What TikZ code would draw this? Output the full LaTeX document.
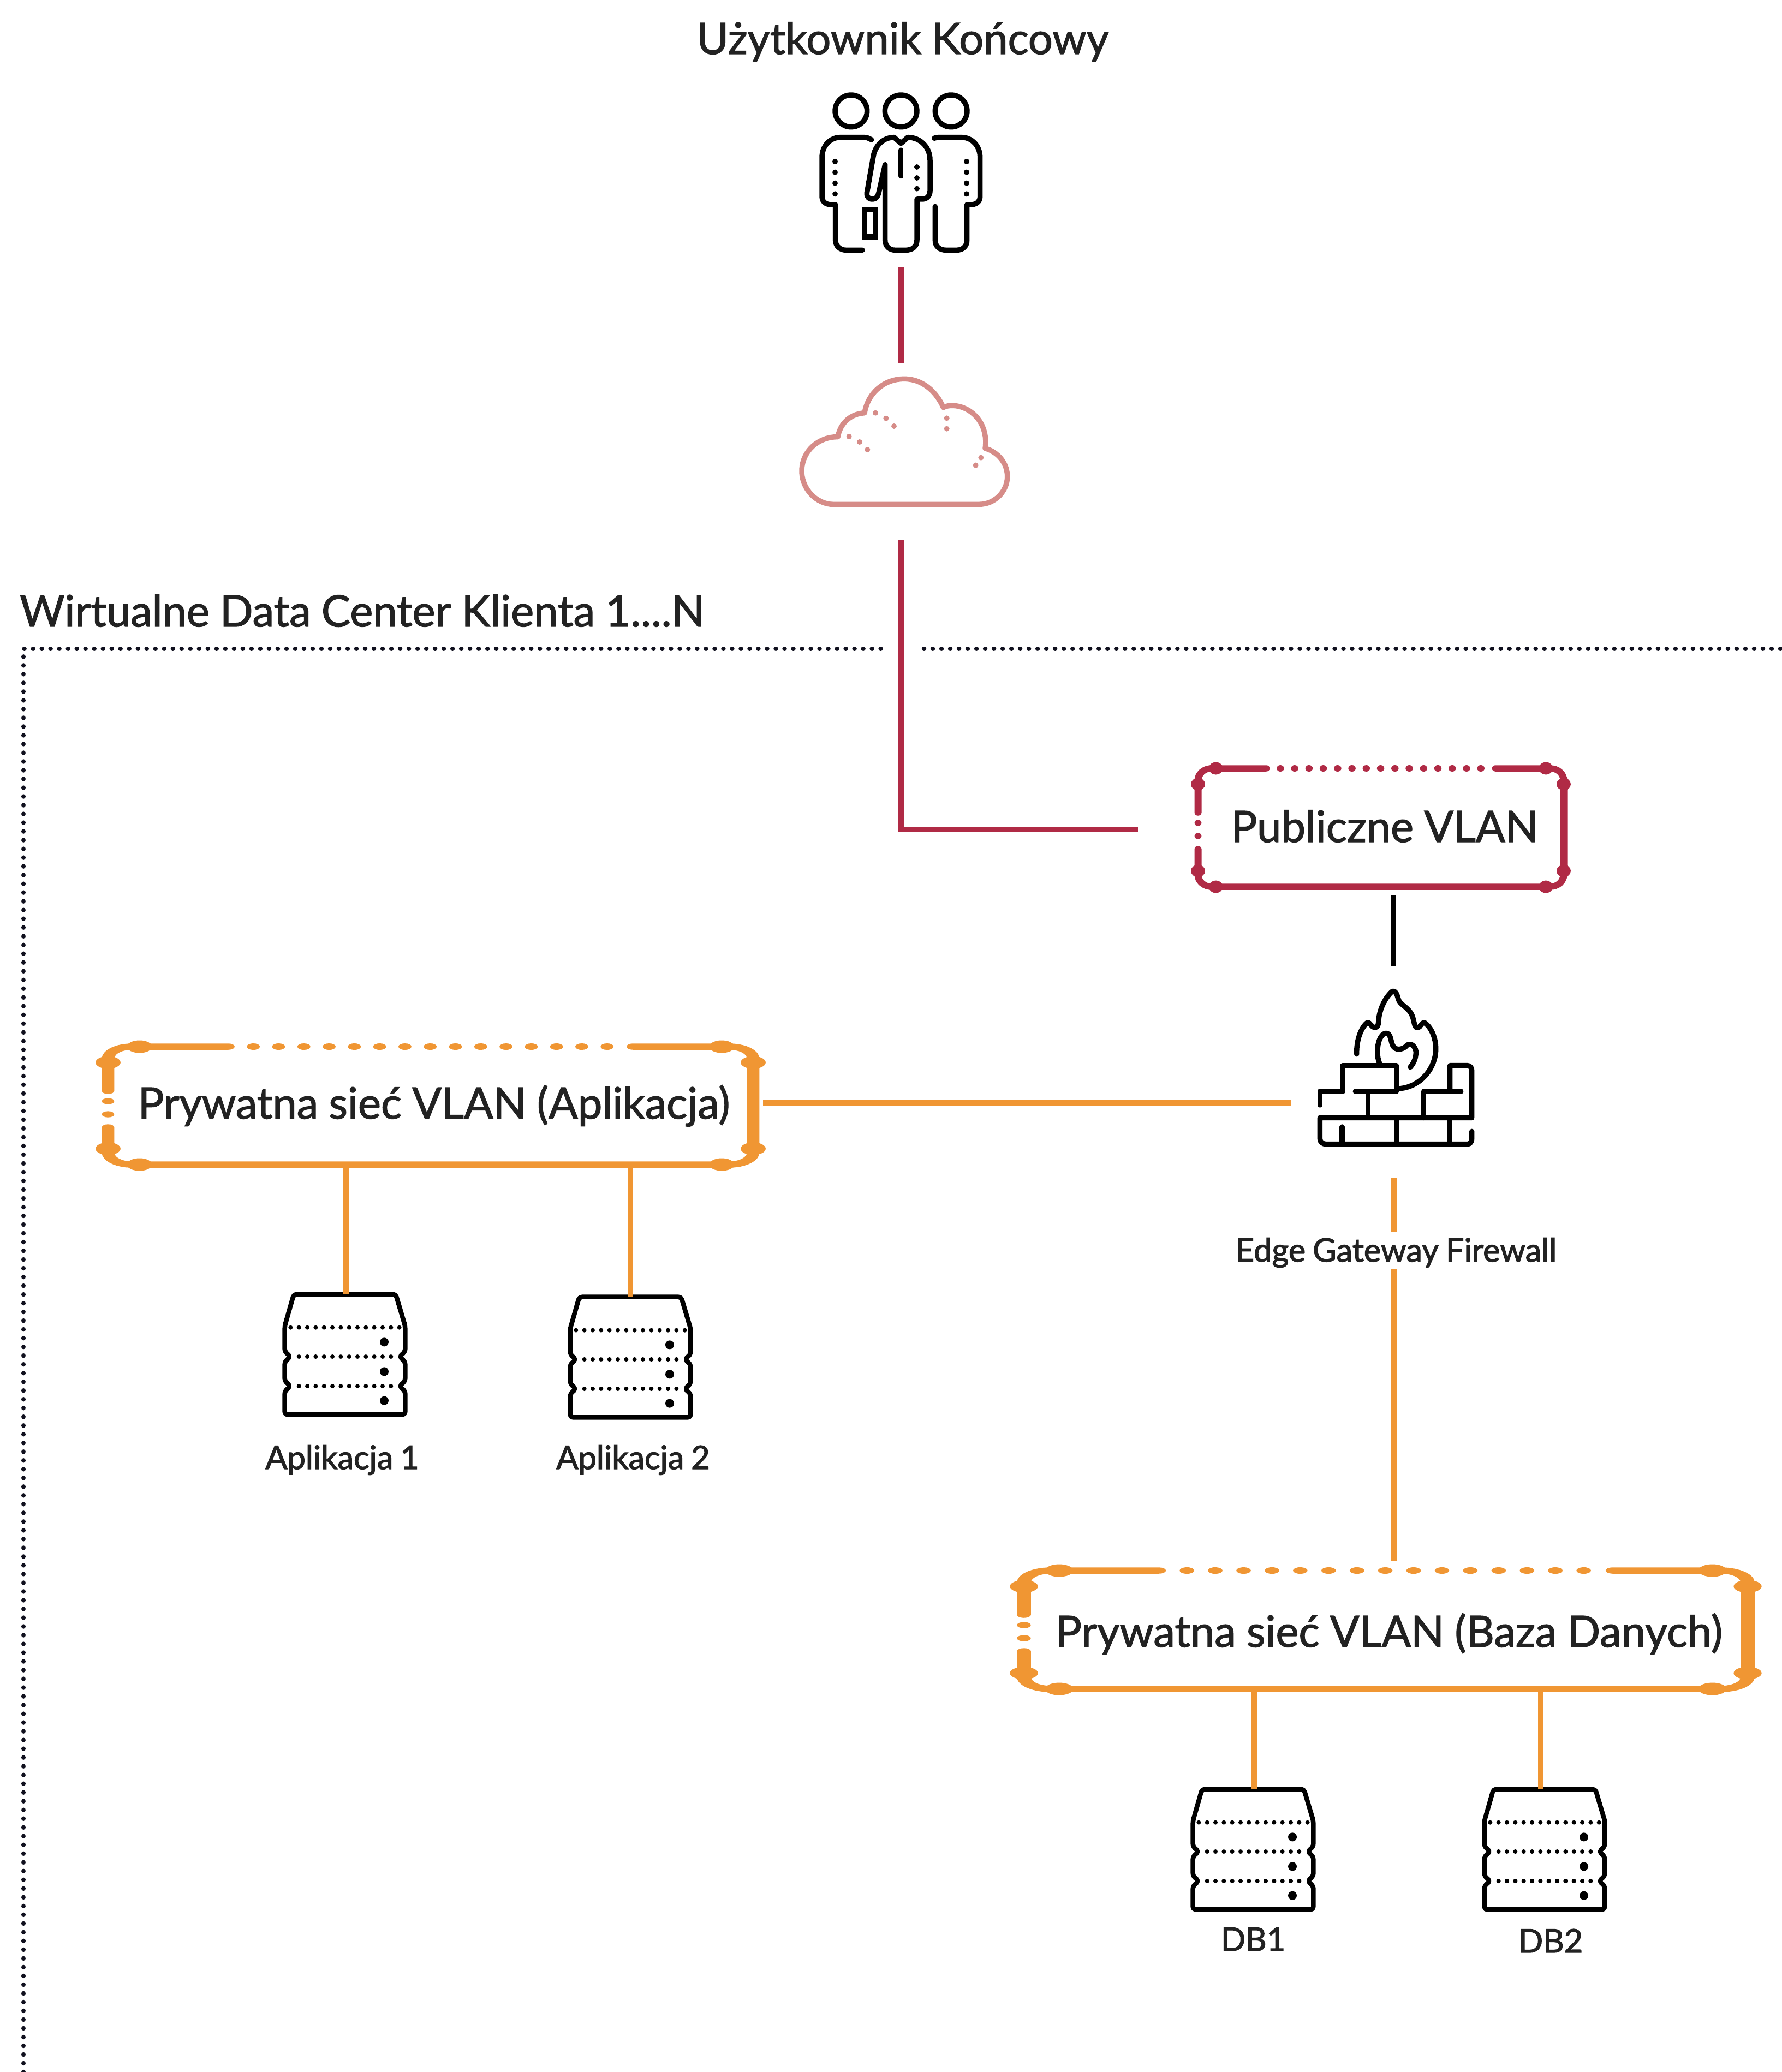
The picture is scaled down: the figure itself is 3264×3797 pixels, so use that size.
\documentclass[tikz,border=0pt]{standalone}
\usepackage{fontspec}
\setmainfont{Lato}
\newfontfamily\bigfam{Lato}[FakeBold=1.6,WordSpace=0.95]
\newfontfamily\smallfam{Lato}[FakeBold=2,WordSpace=0.85]
\definecolor{vred}{HTML}{B02A45}
\definecolor{vorange}{HTML}{F09633}
\definecolor{vpink}{HTML}{D68C88}
\definecolor{vtext}{HTML}{222222}
\definecolor{vdots}{HTML}{10101E}
\tikzset{
  conn/.style={line width=10pt,line cap=butt},
  icon/.style={line width=9.5pt,line cap=round,line join=round,black},
  bigtext/.style={anchor=base,inner sep=0pt,text=vtext,font=\bigfam\fontsize{79.5}{90}\selectfont},
  smalltext/.style={anchor=base,inner sep=0pt,text=vtext,font=\smallfam\fontsize{59.5}{66}\selectfont},
  framedots/.style={line width=8.5pt,line cap=round,vdots,dash pattern=on 0.01pt off 16pt},
  serverpic/.pic={
    \draw[line width=8.5pt,line cap=round,line join=round,rounded corners=5pt]
      (125,270) -- (175,95) -- (735,95) -- (787,270) -- (787,410) -- (755,438) -- (787,466)
      -- (787,572) -- (755,600) -- (787,628) -- (787,757) -- (125,757) -- (125,628)
      -- (157,600) -- (125,572) -- (125,466) -- (157,438) -- (125,410) -- cycle;
    \foreach \i in {0,...,13} \fill ({157+46*\i},278) circle[radius=12];
    \foreach \i in {1,...,12} {\fill ({157+46*\i},438) circle[radius=12]; \fill ({157+46*\i},600) circle[radius=12];}
    \foreach \y in {358,520,680} \fill (672,\y) circle[radius=24];
  }
}
% name, x0, y0, x1, y1, colour
\newcommand{\vlanframe}[6]{%
  \pgfmathsetmacro{\sx}{(#4-#2)/595}%
  \node[inner sep=0pt,outer sep=0pt,minimum width={(#4-#2)*1pt},minimum height={(#5-#3)*1pt}] (#1) at ({(#2+#4)/2},{(#3+#5)/2}) {};
  \begin{scope}[transform canvas={xshift=#2pt,xscale=\sx},#6,line width=11.5pt,line cap=round]
    \draw[rounded corners=22pt] (0,#3+81) -- (0,#3) -- (111,#3);
    \draw[rounded corners=22pt] (484,#3) -- (595,#3) -- (595,#5) -- (0,#5) -- (0,#3+148);
    \foreach \i in {0,...,14} \fill ({134+23.3*\i},#3) circle[radius=6];
    \fill (0,#3+100) circle[radius=5.7];
    \fill (0,#3+124) circle[radius=5.7];
    \foreach \xx in {29,566} {\fill (\xx,#3) circle[radius=11.5]; \fill (\xx,#5) circle[radius=11.5];}
    \foreach \xx in {0,595} {\fill (\xx,#3+29) circle[radius=11.5]; \fill (\xx,#5-29) circle[radius=11.5];}
  \end{scope}
}
\begin{document}
\begin{tikzpicture}[x=1pt,y=-1pt]
\useasboundingbox (0,0) rectangle (3264,3797);
\fill[white] (0,0) rectangle (3264,3797);

% title and section label
\node[bigtext] (title) at (1654,99) {Użytkownik Końcowy};
\node[bigtext,anchor=base west] (vdc) at (36,1148) {Wirtualne Data Center Klienta 1....N};

% dotted frame
\coordinate (fA) at (43,3797);
\coordinate (fB) at (43,1189);
\coordinate (fC) at (1617,1189);
\coordinate (fD) at (1693,1189);
\coordinate (fE) at (3264,1189);
\draw[framedots] (fA) -- (fB) -- (fC);
\draw[framedots] (fD) -- (fE);

% users icon
\begin{scope}[shift={(1400,130)},scale=1/3,icon]
  \foreach \x in {478,752,1028} \draw (\x,220) circle[radius=88];
  \draw (590,378) .. controls (565,365) .. (530,365) -- (420,365) .. controls (360,365) and (318,415) .. (318,475)
    -- (318,690) .. controls (318,720) and (340,735) .. (370,735) -- (392,735) -- (392,930)
    .. controls (392,965) and (420,985) .. (450,985) -- (540,985);
  \draw (935,370) .. controls (950,365) .. (970,365) -- (1085,365) .. controls (1145,365) and (1187,415) .. (1187,475)
    -- (1187,690) .. controls (1187,720) and (1165,735) .. (1135,735) -- (1115,735) -- (1115,930)
    .. controls (1115,965) and (1090,985) .. (1060,985) -- (1000,985) .. controls (965,985) and (940,965) .. (940,930) -- (940,745);
  \draw (752,398) -- (715,365) .. controls (655,365) and (610,410) .. (600,470) -- (565,670)
    .. controls (562,695) and (580,707) .. (597,705) .. controls (615,705) and (625,690) .. (630,670) -- (665,515)
    -- (665,930) .. controls (665,965) and (690,985) .. (720,985) -- (780,985) .. controls (815,985) and (840,965) .. (840,930)
    -- (840,705) -- (870,705) .. controls (895,705) and (912,685) .. (912,660) -- (912,490)
    .. controls (912,420) and (860,365) .. (790,365) -- (752,398);
  \draw (752,435) -- (752,578);
  \draw[line join=miter] (550,760) rectangle (612,912);
  \foreach \y in {498,557,617,676} {\fill (390,\y) circle[radius=15]; \fill (1113,\y) circle[radius=15];}
  \foreach \y in {528,588,647} \fill (840,\y) circle[radius=15];
\end{scope}

% cloud icon
\begin{scope}[shift={(1400,640)},scale=1/3,line width=9.5pt,vpink,line join=round]
  \draw (380,853) -- (1180,853) .. controls (1270,853) and (1337,780) .. (1337,700)
    .. controls (1337,625) and (1285,565) .. (1215,545)
    .. controls (1235,400) and (1130,310) .. (1035,310) .. controls (1015,310) and (1000,312) .. (985,320)
    .. controls (940,220) and (860,163) .. (770,163) .. controls (660,163) and (570,240) .. (552,350)
    .. controls (480,355) and (420,400) .. (405,482)
    .. controls (300,480) and (207,560) .. (207,670) .. controls (207,770) and (290,853) .. (380,853) -- cycle;
  \foreach \p in {(612,350),(670,380),(714,423),(467,480),(525,510),(568,552),(1004,379),(1004,437),(1192,596),(1163,638)}
    \fill \p circle[radius=15];
\end{scope}

% firewall icon
\begin{scope}[shift={(2360,1780)},scale=1/3,icon]
  \draw (377,455) .. controls (375,380) and (400,310) .. (435,282) .. controls (450,275) and (455,310) .. (480,308)
    .. controls (500,305) and (495,280) .. (500,250) .. controls (510,190) and (540,140) .. (570,112)
    .. controls (590,100) and (600,130) .. (605,150) .. controls (615,185) and (650,190) .. (675,230)
    .. controls (695,260) and (690,310) .. (710,310) .. controls (730,310) and (730,280) .. (750,282)
    .. controls (790,310) and (812,370) .. (812,425) .. controls (812,540) and (720,640) .. (605,645);
  \draw (505,510) .. controls (480,460) and (490,360) .. (530,342) .. controls (570,330) and (560,390) .. (580,415)
    .. controls (600,440) and (640,425) .. (655,405) .. controls (680,390) and (705,420) .. (703,450)
    .. controls (700,490) and (685,510) .. (672,527);
  \draw (175,735) -- (175,660) -- (300,660) -- (300,518) -- (595,518) -- (595,660);
  \draw (370,660) -- (595,660);
  \draw (440,660) -- (440,805);
  \draw (745,805) -- (745,660) -- (950,660);
  \draw (890,660) -- (890,518) -- (985,518) .. controls (1000,518) and (1010,530) .. (1010,545) -- (1010,805) -- (175,805)
    -- (175,920) .. controls (175,938) and (190,950) .. (210,950) -- (985,950) .. controls (1000,950) and (1010,938) .. (1010,920) -- (1010,880);
  \draw (297,855) -- (297,950);
  \draw (595,805) -- (595,950);
  \draw (890,805) -- (890,950);
\end{scope}

% VLAN frames
\vlanframe{pub}{2195}{1408}{2865}{1625}{vred}
\vlanframe{appbox}{198}{1918}{1380}{2134}{vorange}
\vlanframe{dbbox}{1876}{2878}{3202}{3095}{vorange}
\node[bigtext] (pubtxt) at (2537,1543) {Publiczne VLAN};
\node[bigtext] (apptxt) at (795,2050) {Prywatna sieć VLAN (Aplikacja)};
\node[bigtext] (dbtxt) at (2545,3018) {Prywatna sieć VLAN (Baza Danych)};

% servers
\pic[scale=1/3] at (480,2340) {serverpic};
\pic[scale=1/3] at (1003,2345) {serverpic};
\pic[scale=1/3] at (2144,3247) {serverpic};
\pic[scale=1/3] at (2678,3247) {serverpic};

% labels
\node[smalltext] (gw) at (2558,2312) {Edge Gateway Firewall};
\node[smalltext] (app1) at (627,2692) {Aplikacja 1};
\node[smalltext] (app2) at (1160,2692) {Aplikacja 2};
\node[smalltext] (db1) at (2296,3575) {DB1};
\node[smalltext] (db2) at (2841,3578) {DB2};

% connector ends
\coordinate (usersEnd) at (1651,489);
\coordinate (cloudTop) at (1651,666);
\coordinate (cloudEnd) at (1651,990);
\coordinate (pubWest) at (2085,1520);
\coordinate (pubSouth) at (2553,1641);
\coordinate (fwTop) at (2553,1770);
\coordinate (appEast) at (1398,2021);
\coordinate (fwWest) at (2366,2021);
\coordinate (fwBottom) at (2554,2159);
\coordinate (gwTop) at (2554,2258);
\coordinate (gwBottom) at (2554,2325);
\coordinate (dbTop) at (2554,2860);
\coordinate (app1Top) at (634,2372);
\coordinate (app2Top) at (1155,2377);
\coordinate (db1Top) at (2298,3278);
\coordinate (db2Top) at (2823,3278);

% connectors
\draw[conn,vred] (usersEnd) -- (cloudTop);
\draw[conn,vred,line join=miter] (cloudEnd) |- (pubWest);
\draw[conn,black] (pubSouth) -- (fwTop);
\draw[conn,vorange] (appEast) -- (fwWest);
\draw[conn,vorange] (fwBottom) -- (gwTop);
\draw[conn,vorange] (gwBottom) -- (dbTop);
\draw[conn,vorange] (app1Top |- appbox.south) -- (app1Top);
\draw[conn,vorange] (app2Top |- appbox.south) -- (app2Top);
\draw[conn,vorange] (db1Top |- dbbox.south) -- (db1Top);
\draw[conn,vorange] (db2Top |- dbbox.south) -- (db2Top);
\end{tikzpicture}
\end{document}
